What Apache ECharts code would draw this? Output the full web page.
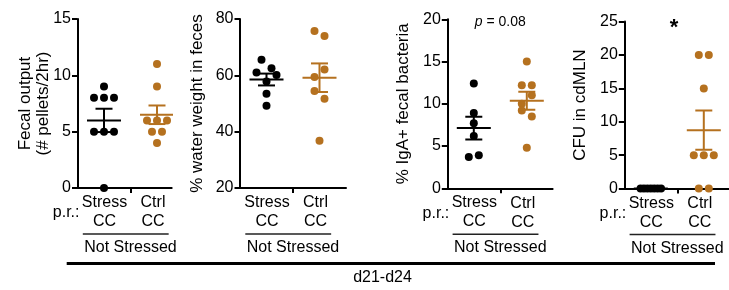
<!DOCTYPE html>
<html><head><meta charset="utf-8">
<script src="https://cdn.jsdelivr.net/npm/echarts@6/dist/echarts.min.js"></script>
<style>html,body{margin:0;padding:0;background:#fff;}#c{width:729px;height:290px;}</style>
</head><body><div id="c"></div>
<script>
// ---- data ----
const groups = ['Stress\nCC', 'Ctrl\nCC'];
const fecalStress = [9, 8, 8, 8, 5, 5, 5, 0];
const fecalCtrl = [11, 9, 6, 6, 6, 5, 5, 4];
const waterStress = [65.5, 62.5, 61.0, 57.8, 60.1, 53.5, 49.2];
const waterCtrl = [75.7, 74.0, 59.4, 62.1, 54.4, 51.7, 36.8];
const igaStress = [12.4, 8.9, 7.7, 6.2, 3.7, 3.9];
const igaCtrl = [15.0, 12.2, 12.2, 10.0, 11.0, 9.2, 8.5, 4.8];
const cfuStress = [0, 0, 0, 0, 0, 0, 0];
const cfuCtrl = [20, 20, 15, 5, 5, 5, 0, 0];
const yTitles = ['Fecal output\n(# pellets/2hr)', '% water weight in feces', '% IgA+ fecal bacteria', 'CFU in cdMLN'];
const yMins = [0, 20, 0, 0];
const yMaxs = [15, 80, 20, 25];
const yIntervals = [5, 20, 5, 5];
const statLabels = ['', '', '{i|p} = 0.08', '*'];
const prLabel = 'p.r.:';
const groupLabel = 'Not Stressed';
const timeLabel = 'd21-d24';

// ---- layout / style ----
const BLACK = '#000000', BROWN = '#b5711f';
const FONT = 'Liberation Sans, Arial, Helvetica, sans-serif';
const PX_PER_CAT = 53;
const panels = [
  {left: 77.5, top: 19, width: 94.2, height: 169, nameGap: 25.5, pr: true},
  {left: 240, top: 19, width: 106, height: 169, nameGap: 34, pr: false},
  {left: 447.3, top: 19.3, width: 105.3, height: 169, nameGap: 34.5, pr: true},
  {left: 624.3, top: 21.6, width: 104.5, height: 167, nameGap: 34.5, pr: true}
];
const seriesData = [[fecalStress, fecalCtrl], [waterStress, waterCtrl], [igaStress, igaCtrl], [cfuStress, cfuCtrl]];

function mean(a) { return a.reduce((s, v) => s + v, 0) / a.length; }
function sem(a) {
  const m = mean(a);
  const v = a.reduce((s, x) => s + (x - m) * (x - m), 0) / (a.length - 1);
  return Math.sqrt(v / a.length);
}
// Prism-like row swarm: rows of nearby values spread symmetrically
function swarm(values, pxPerUnit) {
  const ROW_H = 9.5, STEP = 10, MAX_SPAN = 20.5;
  const idx = values.map((v, i) => i).sort((a, b) => values[b] - values[a] || a - b);
  const off = new Array(values.length).fill(0);
  let i = 0;
  while (i < idx.length) {
    const top = values[idx[i]];
    const row = [idx[i]];
    let j = i + 1;
    while (j < idx.length && (top - values[idx[j]]) * pxPerUnit < ROW_H) { row.push(idx[j]); j++; }
    row.sort((a, b) => a - b);
    const n = row.length;
    const step = n > 1 ? Math.min(STEP, MAX_SPAN / (n - 1)) : 0;
    row.forEach((k, r) => { off[k] = (r - (n - 1) / 2) * step; });
    i = j;
  }
  return off;
}

const chart = echarts.init(document.getElementById('c'), null, {renderer: 'canvas'});
const grid = [], xAxis = [], yAxis = [], series = [];
panels.forEach((p, pi) => {
  grid.push({left: p.left, top: p.top, width: p.width, height: p.height, containLabel: false});
  const xMax = 0.5 + p.width / PX_PER_CAT;
  xAxis.push({
    type: 'value', gridIndex: pi, min: 0.5, max: xMax,
    axisLine: {show: true, onZero: false, lineStyle: {color: BLACK, width: 2}},
    axisTick: {show: true, customValues: [1.5], length: 5, lineStyle: {color: BLACK, width: 2}},
    axisLabel: {
      show: true, customValues: [1, 2], color: BLACK, fontSize: 16, lineHeight: 19, margin: 5,
      fontFamily: FONT,
      formatter: v => v < 1.5 ? '{s|' + groups[0].split('\n').join('}\n{s|') + '}' : '{c|' + groups[1].split('\n').join('}\n{c|') + '}',
      rich: {
        s: {fontSize: 16, lineHeight: 19, color: BLACK, fontFamily: FONT, padding: [0, 0, 0, 1]},
        c: {fontSize: 16, lineHeight: 19, color: BLACK, fontFamily: FONT, padding: [1, 8, 0, 0]}
      }
    },
    splitLine: {show: false}
  });
  yAxis.push({
    type: 'value', gridIndex: pi, min: yMins[pi], max: yMaxs[pi], interval: yIntervals[pi],
    axisLine: {show: true, lineStyle: {color: BLACK, width: 2}},
    axisTick: {show: true, length: 5.5, lineStyle: {color: BLACK, width: 2}},
    axisLabel: {color: BLACK, fontSize: 16, margin: 6.5, fontFamily: FONT},
    splitLine: {show: false},
    name: yTitles[pi], nameLocation: 'middle', nameRotate: 90, nameGap: p.nameGap,
    nameMoveOverlap: false,
    nameTextStyle: {color: BLACK, fontSize: 17, lineHeight: 18, fontFamily: FONT}
  });
  const pxPerUnit = p.height / (yMaxs[pi] - yMins[pi]);
  seriesData[pi].forEach((vals, gi) => {
    const color = gi === 0 ? BLACK : BROWN;
    const xc = gi + 1;
    const off = swarm(vals, pxPerUnit);
    series.push({
      type: 'scatter', xAxisIndex: pi, yAxisIndex: pi, clip: false, z: 3,
      symbol: 'circle', symbolSize: 8, itemStyle: {color: color, opacity: 1},
      data: vals.map((v, i) => ({value: [xc, v], symbolOffset: [off[i], 0]})),
      animation: false, silent: true
    });
    series.push({
      type: 'custom', xAxisIndex: pi, yAxisIndex: pi, clip: true, z: 4,
      data: [[xc, mean(vals), sem(vals)]],
      renderItem: (params, api) => {
        const x = api.value(0), m = api.value(1), s = api.value(2);
        const c = api.coord([x, m]), t = api.coord([x, m + s]), b = api.coord([x, m - s]);
        const st = {stroke: color, lineWidth: 2, fill: null};
        return {type: 'group', children: [
          {type: 'line', shape: {x1: c[0] - 17, y1: c[1], x2: c[0] + 17, y2: c[1]}, style: st},
          {type: 'line', shape: {x1: c[0], y1: t[1], x2: c[0], y2: b[1]}, style: st},
          {type: 'line', shape: {x1: c[0] - 8.5, y1: t[1], x2: c[0] + 8.5, y2: t[1]}, style: st},
          {type: 'line', shape: {x1: c[0] - 8.5, y1: b[1], x2: c[0] + 8.5, y2: b[1]}, style: st}
        ]};
      },
      animation: false, silent: true
    });
  });
});

chart.setOption({
  animation: false,
  textStyle: {fontFamily: FONT},
  grid, xAxis, yAxis, series
});

// annotations positioned from the axes
const graphic = [];
panels.forEach((p, pi) => {
  const base = chart.convertToPixel({gridIndex: pi}, [1.5, yMins[pi]]);
  const axisY = base[1];
  if (p.pr) {
    graphic.push({type: 'text', style: {text: prLabel, x: p.left + 2, y: axisY + 25, align: 'right', verticalAlign: 'middle', font: '16px ' + FONT, fill: BLACK}});
  }
  const u1 = chart.convertToPixel({gridIndex: pi}, [0.6, yMins[pi]]);
  const u2 = chart.convertToPixel({gridIndex: pi}, [2.22, yMins[pi]]);
  graphic.push({type: 'line', shape: {x1: u1[0], y1: axisY + 46, x2: u2[0], y2: axisY + 46}, style: {stroke: '#222', lineWidth: 1.5}});
  graphic.push({type: 'text', style: {text: groupLabel, x: base[0], y: axisY + 59.5, align: 'center', verticalAlign: 'middle', font: '16px ' + FONT, fill: BLACK}});
  if (statLabels[pi]) {
    const top = chart.convertToPixel({gridIndex: pi}, [pi === 3 ? 1.44 : 1.5, yMaxs[pi]]);
    if (pi === 3) {
      graphic.push({type: 'text', style: {text: statLabels[pi], x: top[0], y: top[1] + 6, align: 'center', verticalAlign: 'middle', font: 'bold 22px ' + FONT, fill: BLACK}});
    } else {
      graphic.push({type: 'text', style: {text: statLabels[pi], x: top[0], y: top[1] + 2.5, align: 'center', verticalAlign: 'middle', font: '14px ' + FONT, fill: BLACK,
        rich: {i: {fontStyle: 'italic', fontSize: 14, fontFamily: FONT, fill: BLACK}}}});
    }
  }
});
graphic.push({type: 'line', shape: {x1: 66.7, y1: 263.5, x2: 715, y2: 263.5}, style: {stroke: BLACK, lineWidth: 3}});
graphic.push({type: 'text', style: {text: timeLabel, x: 382.5, y: 278, align: 'center', verticalAlign: 'middle', font: '16px ' + FONT, fill: BLACK}});
chart.setOption({graphic});
</script></body></html>
